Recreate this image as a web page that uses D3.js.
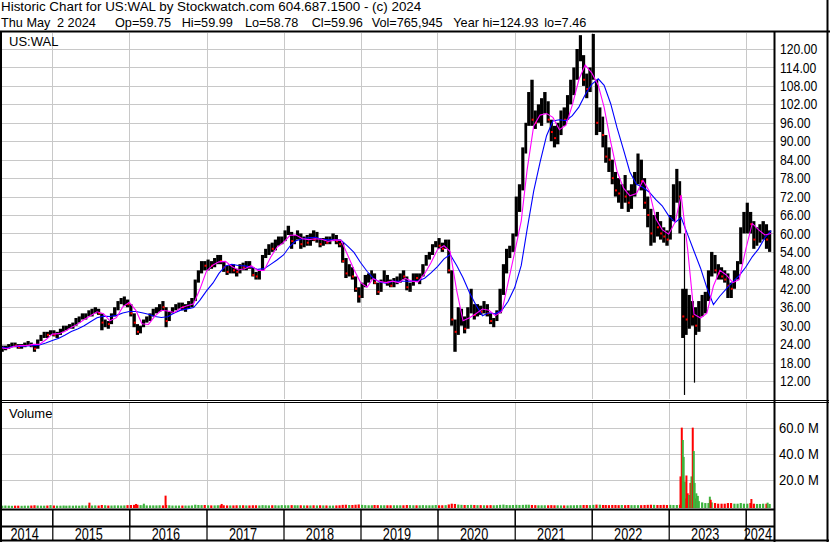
<!DOCTYPE html>
<html><head><meta charset="utf-8">
<script src="https://cdn.jsdelivr.net/npm/d3@7/dist/d3.min.js"></script>
<style>
html,body{margin:0;padding:0;background:#fff;}
svg{display:block;font-family:"Liberation Sans",Arial,sans-serif;}
</style></head><body>
<svg id="chart" width="830" height="543"></svg>
<script>
// ---------- DATA (half-month periods, May 2014 .. Apr 2024) ----------
const periodStart = "2014-05-01";
const loVals = [
 21.5,22,22.5,23,23,22.5,22.5,23,23.5,23,21.5,22.5,25,26,26,27,
 26.5,26,27,28,28.5,29,29,30,31,32,32,33,33,34,33.5,28.5,29.5,29,30.5,33,35,37,36.5,36,
 33,29.5,27,27.5,29.5,31,31.5,33,34,34.5,35,29.5,31.5,34,35,35.5,35,34.5,35.5,36,38,44,47,48,
 48,48.5,49,50,50,47.5,46.5,47,47,46,47,48,48,48.5,46,45,45,48,52,53,54,54.5,56,56.5,
 57.5,59.5,55,56.5,58,55,55.5,56,56,57.5,57,55.5,56,56.5,56.5,57.5,56.5,55.5,50.5,45.5,46,45,41,37.5,
 39,42.5,44,45,43.5,40,41,44,43,42.5,42.5,43.5,44,45,41.5,41,43,44.5,43.5,46,49.5,51.5,53,55.5,
 55,54,55,47,30,21.5,27,30,27.5,29,34,32,33,33.5,34,33,30.5,29.5,31.5,34,40,47,52,54,
 59,67,74,86,95,95,94,96,95,99,96,90,88,89,92,95,97,102,105,110,116,108,104,106,
 110,92,93,88,83,80,76,72,70,68,70,67,68,72,76,74,68,62,56,57,59,58,57,56,
 58,64,70,60,26,27,29,30,27,28,33,34,38,46,47,45,45,44,39,39,42,45,50,60,
 60,60,55,56,57,58,55,54];
const hiVals = [
 23.5,23.5,24,24.5,24.5,24,24,24.5,25,24.5,24,25.5,27,28,28,28.5,
 28.5,28,29,30,30,30.5,31,32.5,33,34,34,35,35.5,36,35.5,34,32,31.5,34,36,38,39,39.5,38.5,
 37,34,30.5,30,32,33,34,35.5,36,37,38,36,34.5,36,37,37.5,37.5,37,38,39,45,48,51,51,
 51.5,51,52,53,53,51,49.5,50,50,48.5,50,50.5,51,51,49,47.5,48,53,55,56.5,57,58,59,59,
 61,62.5,60.5,59.5,61,60,59,59.5,60,61,60.5,58.5,58.5,59,59,60,59.5,58,57,52,50,49,46,42.5,
 44,46.5,47,48,47,44,45,48,46.5,45,45.5,46,47,48,46,44,47,47,47,50,53,54,56.5,57.5,
 58.5,57,58,58,48,32,36,35.5,33,36,42,37,37,36.5,38,37,34,32.5,35,42,50,55,56,60,
 72,76,88,96,106,110,100,102,104,106,103,97,95,96,100,101,105,110,114,120,124.5,118,112,114,
 124.9,110,101,98,92,88,84,80,78,76,79,74,76,80,86,84,78,72,68,66,67,64,62,61,
 66,76,81,77,42,42,40,38,36,38,40,41,48,54,53,50,49,48,47,44,48,51,62,67,
 70,67,64,62,63,64,63,61];
const clVals = [
 22.5,23,23.5,24,23.5,23,23.5,24,24.5,23.5,22.5,25,26.5,27.5,27,28,
 27,27.5,28.5,29.5,29.5,30,30.5,32,32.5,33,33.5,34,35,35.5,34,31,31,30.5,33.5,35.5,37.5,38,38,37,
 34,31,28,29.5,31.5,32.5,33.5,35,35,36.5,36,31.5,34,35.5,36.5,37,36,36.5,37.5,38.5,44,47.5,50,49.5,
 50,49.5,51.5,52,51,49,47.5,49.5,48,47.5,49.5,49,50.5,49,46.5,46,47,52.5,54,55.5,55,57.5,57.5,58.5,
 60.5,61,57.5,59,60,56.5,58.5,57,59.5,58,58.5,56.5,57.5,57,58,59,57.5,56.5,51,47,49,46,42,39.5,
 43,45.5,46,46.5,44,41,44.5,46.5,44,43,44.5,44.5,46.5,46,42.5,43,46,45.5,46.5,49.5,52.5,53.5,56,57,
 56,55,57.5,48,32,28,33,33.5,29,35,38,33.5,35.5,34.5,36,34,31.5,31.5,34.5,41,48,53,55,59.5,
 70,72,86,95,102,97,96,99,100,101,97,93,91,94,99,97,103,108,112,117,120,110,107,112,
 118,96,98,92,85,84,78,74,73,74,72,70,72,78,82,77,70,66,60,63,62,60,59,58,
 64,74,78,72,33,32,35,33,30,34,37,37.5,46,51,48,47,46,45,43,42,46,49,60,64,
 66,63,58,58,60,62,58,60];
// typical daily volume per half-month (millions)
const volVals = [
 .5,.6,.5,.4,.5,.5,.4,.5,.5,.6,.8,.6,.5,.5,.6,.9,
 .6,.5,.5,.6,.5,.6,.5,.6,.5,.7,.6,.8,.6,.7,.6,1.0,.8,.6,.6,.7,.7,.6,.7,.9,
 1.0,1.1,1.2,.9,.8,.7,.7,.7,.7,.8,.7,1.0,.8,.6,.6,.6,.6,.6,.6,.7,1.2,1.0,.9,1.0,
 .8,.7,.7,.8,.8,.8,.7,.7,.7,.8,.8,.8,.7,.7,.8,.8,.7,.9,.8,.7,.8,.8,.7,.9,
 .8,.8,.9,.8,.8,.8,.7,.7,.7,.8,.7,.8,.7,.7,.6,.6,.7,.8,1.1,1.2,1.0,1.0,1.2,1.4,
 1.1,.9,.8,.8,1.0,.9,.8,.8,.8,.8,.8,.8,.8,.8,1.0,.9,.8,.8,.8,.9,.8,.8,.8,1.0,
 .8,.8,.9,1.4,2.0,1.8,1.3,1.1,1.0,1.0,1.1,1.0,.9,.9,.8,.8,.9,.8,.9,1.1,1.3,1.0,.9,1.0,
 1.1,1.0,1.1,1.2,1.2,1.0,.9,.8,.8,.8,.8,.9,.8,.8,.7,.7,.7,.8,.8,.9,.9,1.0,1.0,.9,
 1.1,1.3,1.2,1.0,1.0,.9,1.0,1.0,.9,1.0,.9,1.0,.9,.9,.9,.9,1.0,1.1,1.2,1.1,1.0,1.0,1.1,1.0,
 1.1,1.0,1.0,1.2,8,6,5,4,6,4,3,2.5,2.5,3,2.5,2,2,2,2.5,2.5,2,2,2.5,2,
 2,2.5,2,1.8,1.8,2,2,1.8];
// single heavy-volume days
const spikeDates = ["2015-06-26","2016-02-02","2016-03-10","2016-06-21","2017-03-14",
 "2023-02-26","2023-03-04","2023-03-09","2023-03-13","2023-03-18","2023-03-26","2023-04-01",
 "2023-04-07","2023-04-14","2023-04-19","2023-04-25","2023-04-30","2023-05-04","2023-05-12",
 "2023-05-19","2023-07-15","2023-07-19","2024-01-28","2024-04-14"];
const spikeVols = [2.8,1.8,2,8.2,1.8,23,60.5,51,38,19,23.7,10,8.7,18,23,60.5,42.5,18,10,8,7.4,5,5.6,2.8];
const spikeUp = [0,0,1,0,0,0,0,1,1,1,0,0,1,0,1,0,1,1,1,1,1,0,0,1];
// single-day extreme wicks
const wickDates = ["2023-03-13","2023-05-01"];
const wickHi = [60, 30];
const wickLo = [7.46, 11.46];
// moving averages, monthly points from May 2014 to May 2024
const maStart = "2014-05-01";
const maFast = [22.8,22.5,23.25,23.5,23.5,23.9,23.9,25.4,27.25,
 27.4,28.1,29.4,30.5,32,33.25,34.5,33.9,31.6,32.6,36.1,37.6,
 35,30.6,30.4,33.1,35,34.75,34.25,35.75,36.5,37.1,41.9,47.75,
 49.75,50.75,50.9,49.25,48.1,48.5,49.5,48,48,52.25,55.5,57.1,
 59.4,59.5,58.25,58,58.25,58.1,57.4,57.9,57.75,53,48.25,44.1,
 42.5,45.25,44.4,44,44.5,44,45.4,44.5,44.25,46.9,50.5,54.75,
 56,54.1,41.4,31.6,32.6,33.9,35.4,35,33.25,34.6,44.1,53.9,
 64.1,80.75,95,98.5,99,97.75,93.75,95.25,101.75,110,114.75,112.25,
 108.25,101,89.75,80.25,74.75,72.25,73,77.25,73.75,64.75,61.25,59.75,
 63.75,72.5,54.75,33.75,32.5,34.1,42.9,48,46.5,44,45,54.75,
 63.25,61.25,59.5,60];
const maSlow = [23,22.75,23.25,23.25,23.4,23.5,23.7,24.35,25.2,
 25.9,26.9,28.1,28.95,30,31.3,32.55,33.1,33,33.35,34.15,34.6,
 34.6,34.2,33.7,33,32.65,32.9,34.1,35.05,35.45,35.9,38.3,41.3,
 43.9,47,49.4,49.95,49.55,49.45,49.05,48.3,48.55,49.95,51.35,53,
 55.9,57.6,58.3,58.6,58.75,58.1,57.9,57.95,57.8,55.85,53.85,50.55,
 47.7,45.55,44.25,43.85,44.4,44.45,44.45,44.5,44.55,45.45,47.15,49.2,
 51.75,53.15,49.55,45.6,40.7,36.75,33.2,34.2,33.85,35,37.95,42.4,
 49.6,61.4,73.75,83.15,91.8,96.6,97,96.7,98.3,101.1,105.1,108.5,
 110.3,108.2,102.2,94.4,87.2,80,76,75,73.4,71,69,65.7,
 63.6,65.2,59.6,54.2,48.7,42.35,36.85,39.65,41.95,44.25,46.3,49,
 52.4,54.9,58.6,60.9];
const priceTicks = [120,114,108,102,96,90,84,78,72,66,60,54,48,42,36,30,24,18,12];
const volTicks = [20,40,60];
const yearLabels = ["2014","2015","2016","2017","2018","2019","2020","2021","2022","2023","2024"];
const titleLine1 = "Historic Chart for US:WAL by Stockwatch.com 604.687.1500 - (c) 2024";
const titleLine2 = "Thu May  2 2024  Op=59.75  Hi=59.99  Lo=58.78  Cl=59.96  Vol=765,945  Year hi=124.93  lo=7.46";
const symbol = "US:WAL";

// ---------- LAYOUT ----------
const svg = d3.select("#chart");
const parse = d3.timeParse("%Y-%m-%d");
const L = 2, R = 774, PT = 33, PB = 399, VT = 403, VB = 508;
const x = d3.scaleTime().domain([new Date(2015,0,1), new Date(2024,0,1)]).range([52.3, 745.7]);
const yP = d3.scaleLinear().domain([12,120]).range([381,49]);
const yV = d3.scaleLinear().domain([0,60]).range([506.3,428.3]);
const GRID = "#c8c8c8", GREEN = "#3db43d", RED = "#ff0000";

const p0 = parse(periodStart);
const pStart = i => new Date(p0.getFullYear(), p0.getMonth() + Math.floor(i/2), i%2 ? 16 : 1);
const periods = loVals.map((d,i)=>({t0:pStart(i), t1:pStart(i+1), lo:d, hi:hiVals[i], cl:clVals[i],
  up: i===0 ? true : clVals[i] >= clVals[i-1], vol: volVals[i]}));

const defs = svg.append("defs");
defs.append("clipPath").attr("id","cp").append("rect").attr("x",L).attr("y",PT).attr("width",R-L).attr("height",PB-PT);
defs.append("clipPath").attr("id","cv").append("rect").attr("x",L).attr("y",VT).attr("width",R-L).attr("height",VB-VT+0.5);

// grids
const years = d3.range(2015,2025).map(y=>new Date(y,0,1));
function gridAxis(axis, tr){
  const g = svg.append("g").attr("transform",tr).call(axis);
  g.select(".domain").remove();
  g.selectAll("line").attr("stroke",GRID).attr("shape-rendering","crispEdges");
  return g;
}
gridAxis(d3.axisLeft(yP).tickValues(priceTicks).tickSize(R-L).tickFormat(""), `translate(${R},0)`);
gridAxis(d3.axisLeft(yV).tickValues(volTicks).tickSize(R-L).tickFormat(""), `translate(${R},0)`);
gridAxis(d3.axisTop(x).tickValues(years).tickSize(PB-PT).tickFormat(""), `translate(0,${PB})`);
gridAxis(d3.axisTop(x).tickValues(years).tickSize(VB-VT).tickFormat(""), `translate(0,${VB})`);

// price bars
const gp = svg.append("g").attr("clip-path","url(#cp)");
gp.selectAll("rect.bar").data(periods).join("rect").attr("class","bar")
  .attr("x",d=>x(d.t0)).attr("width",d=>x(d.t1)-x(d.t0))
  .attr("y",d=>yP(d.hi)).attr("height",d=>yP(d.lo)-yP(d.hi)).attr("fill","#000");
gp.selectAll("line.wick").data(wickDates).join("line").attr("class","wick")
  .attr("x1",d=>Math.round(x(parse(d)))+0.5).attr("x2",d=>Math.round(x(parse(d)))+0.5)
  .attr("y1",(d,i)=>yP(wickHi[i])).attr("y2",(d,i)=>yP(wickLo[i])).attr("stroke","#000").attr("stroke-width",1.2);
gp.selectAll("rect.cl").data(periods.filter(d=>!d.up)).join("rect").attr("class","cl")
  .attr("x",d=>x(d.t1)-2).attr("width",2).attr("y",d=>yP(d.cl)-1).attr("height",2).attr("fill",RED);

// moving averages
const m0 = parse(maStart);
const maDate = i => new Date(m0.getFullYear(), m0.getMonth()+i, 1);
const lineGen = d3.line().x((d,i)=>x(maDate(i))).y(d=>yP(d));
gp.append("path").datum(maSlow).attr("d",lineGen).attr("fill","none").attr("stroke","#0000ff").attr("stroke-width",1.1);
gp.append("path").datum(maFast).attr("d",lineGen).attr("fill","none").attr("stroke","#ff00ff").attr("stroke-width",1.1);

// volume
const gv = svg.append("g").attr("clip-path","url(#cv)");
gv.selectAll("rect.vb").data(periods).join("rect").attr("class","vb")
  .attr("x",d=>x(d.t0)+0.5).attr("width",2.2)
  .attr("y",d=>yV(d.vol)).attr("height",d=>VB-yV(d.vol)).attr("fill",d=>d.up?GREEN:RED);
gv.selectAll("rect.vs").data(spikeDates).join("rect").attr("class","vs")
  .attr("x",d=>x(parse(d))-1).attr("width",2)
  .attr("y",(d,i)=>yV(spikeVols[i])).attr("height",(d,i)=>VB-yV(spikeVols[i]))
  .attr("fill",(d,i)=>spikeUp[i]?GREEN:RED);

// axis labels (horizontally condensed glyphs via transform)
const aP = svg.append("g").attr("transform","translate(780,0)")
  .call(d3.axisRight(yP).tickValues(priceTicks).tickSize(0).tickPadding(0).tickFormat(d3.format(".2f")));
aP.select(".domain").remove();
aP.selectAll("text").attr("font-family","Liberation Sans, Arial, sans-serif").attr("font-size",14)
  .attr("fill","#000").attr("dy","0.33em").attr("transform","scale(0.87,1)");
const aV = svg.append("g").attr("transform","translate(779,0)")
  .call(d3.axisRight(yV).tickValues(volTicks).tickSize(0).tickPadding(0).tickFormat(d=>d3.format(".1f")(d)+" M"));
aV.select(".domain").remove();
aV.selectAll("text").attr("font-family","Liberation Sans, Arial, sans-serif").attr("font-size",14)
  .attr("fill","#000").attr("dy","0.33em").attr("transform","scale(0.93,1)");

// x axis rows
const xmin = x.invert(1), xmax = x.invert(R);
function blackAxis(axis, tr, w){
  const g = svg.append("g").attr("transform",tr).call(axis);
  g.select(".domain").remove();
  g.selectAll("line").attr("stroke","#000").attr("stroke-width",w);
}
blackAxis(d3.axisTop(x).tickValues(years).tickSize(16).tickFormat(""), "translate(0,526)", 1.5);
blackAxis(d3.axisTop(x).tickValues(years).tickSize(14).tickFormat(""), "translate(0,541)", 1.2);
svg.append("g").selectAll("text").data(yearLabels).join("text")
  .attr("transform",d=>{ const a=new Date(+d,0,1), b=new Date(+d+1,0,1);
     const cx=(x(a<xmin?xmin:a)+x(b>xmax?xmax:b))/2 - 2;
     return `translate(${cx},539.5) scale(0.77,1)`; })
  .attr("text-anchor","middle").attr("font-size",16.5).attr("fill","#000").text(d=>d);

// frame lines
const blk = (x1,y1,x2,y2,w)=>svg.append("line").attr("x1",x1).attr("y1",y1).attr("x2",x2).attr("y2",y2)
  .attr("stroke","#000").attr("stroke-width",w);
blk(0,31.5,830,31.5,2);
blk(1,31,1,542,2);
blk(827.5,0,827.5,542,2);
blk(774.5,31,774.5,542,2);
blk(0,400.5,829,400.5,1);
blk(0,402.5,829,402.5,1);
blk(0,509.5,775,509.5,2);
blk(0,526.5,775,526.5,2);
blk(0,540.5,829,540.5,2);

// header texts; the second line is split at its double gaps and each part placed on its own
const seg2 = titleLine2.split(/ {2,}/);
const seg2X = [1, 57, 115, 181.7, 245, 311.7, 371.7, 453.3, 544.3];
svg.append("text").attr("x",1).attr("y",11.3).attr("font-size",13.4).attr("fill","#000").text(titleLine1);
svg.append("g").selectAll("text").data(seg2).join("text")
  .attr("x",(d,i)=>seg2X[i]).attr("y",26.5).attr("font-size",12.7).attr("fill","#000").text(d=>d);
svg.append("text").attr("x",9).attr("y",46).attr("font-size",13).attr("fill","#000").text(symbol);
svg.append("text").attr("x",9).attr("y",417.5).attr("font-size",13).attr("fill","#000").text("Volume");
</script>
</body></html>
